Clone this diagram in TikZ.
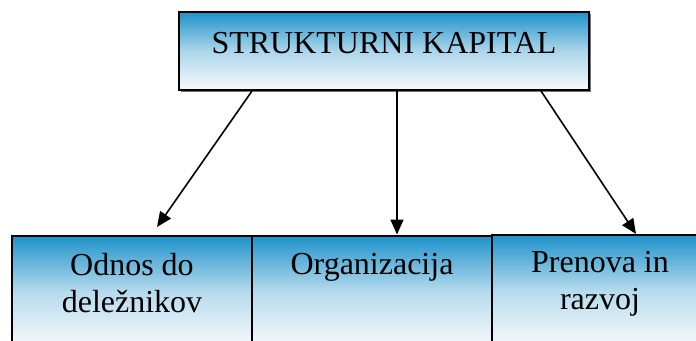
\documentclass[tikz,border=0pt]{standalone}
\usepackage{fontspec}
\setmainfont{Liberation Serif}
\usetikzlibrary{arrows.meta,shadows}
\definecolor{boxblue}{RGB}{30,146,202}
\definecolor{boxwhite}{RGB}{248,250,252}
\begin{document}
\begin{tikzpicture}[x=1pt,y=-1pt,
  headbox/.style={draw=black,line width=1.8pt,top color=boxblue,bottom color=boxwhite,
    middle color=boxblue!35!boxwhite,
    minimum width=410pt,minimum height=78pt,inner sep=0pt,
    drop shadow={shadow xshift=1.6pt,shadow yshift=-1.6pt,fill=black!55,opacity=1}},
  subbox/.style={draw=black,line width=1.5pt,top color=boxblue,bottom color=boxwhite,
    middle color=boxblue!30!boxwhite,
    minimum height=112pt,inner sep=0pt,anchor=north},
  lbl/.style={inner sep=0pt,align=center,font=\fontsize{32}{37.5}\selectfont},
  arr/.style={line width=1.6pt,-{Triangle[length=15pt,width=13pt]}}]
\useasboundingbox (0,0) rectangle (696,340);

% top box
\node[headbox] (top) at (384,51) {};
\node[lbl,anchor=base] (toptxt) at (384,53) {STRUKTURNI KAPITAL};

% three lower boxes
\node[subbox,minimum width=240pt] (b1) at (132,235) {};
\node[subbox,minimum width=240pt] (b2) at (372,235) {};
\node[subbox,minimum width=220pt] (b3) at (602,234) {};

\node[lbl,anchor=north] (t1) at (132,253) {Odnos do\\deležnikov};
\node[lbl,anchor=north] (t2) at (372,253) {Organizacija};
\node[lbl,anchor=north] (t3) at (600,251) {Prenova in\\razvoj};

% connectors
\coordinate (s1) at (252,91);
\coordinate (s2) at (397,91);
\coordinate (s3) at (541,91);
\coordinate (e1) at (157,227);
\coordinate (e2) at (397,234.5);
\coordinate (e3) at (636,234);
\draw[arr] (s1) -- (e1);
\draw[arr] (s2) -- (e2);
\draw[arr] (s3) -- (e3);
\end{tikzpicture}
\end{document}
